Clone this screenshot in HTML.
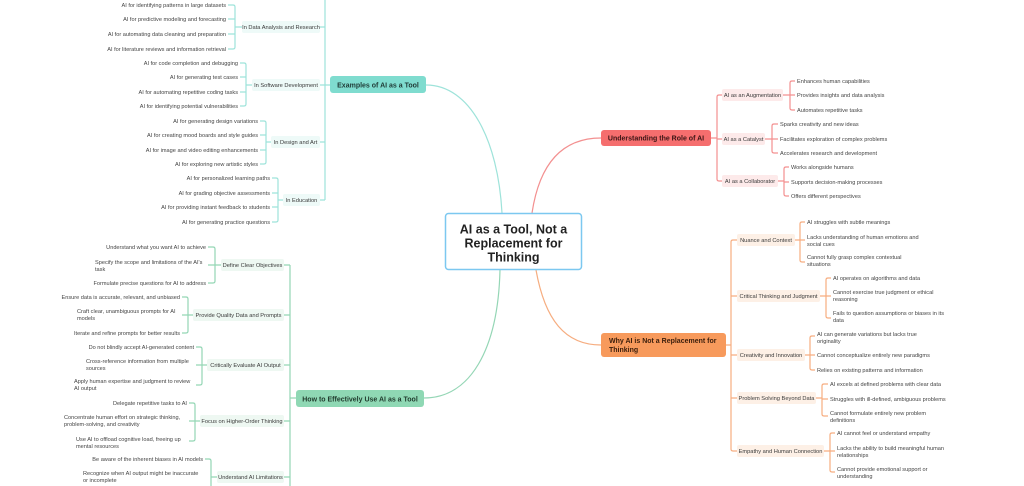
<!DOCTYPE html>
<html><head><meta charset="utf-8"><style>
html,body{margin:0;padding:0;background:#fff;}
svg{display:block;}
text{font-family:"Liberation Sans",sans-serif;}
.lf{font-size:5.6px;fill:#444;}
.sub{font-size:5.7px;fill:#3a3a3a;}
.lt{fill:none;stroke:#9ee3da;stroke-width:1.2;}
.lg{fill:none;stroke:#94d6b5;stroke-width:1.2;}
.lr{fill:none;stroke:#f39090;stroke-width:1.2;}
.lo{fill:none;stroke:#f6ad80;stroke-width:1.2;}
</style></head><body>
<svg width="1024" height="486" viewBox="0 0 1024 486" xmlns="http://www.w3.org/2000/svg">
<path class="lt" d="M502 213 C498 140 470 85 426 85"/>
<path class="lr" d="M532 213 C540 160 565 138 601 138"/>
<path class="lg" d="M500 270 C498 350 470 398 424 398"/>
<path class="lo" d="M536 270 C545 320 565 345 601 345"/>

<path class="lt" d="M330 85 H325 M325 0 V200"/>
<path class="lt" d="M325 27 H320 M325 85 H320 M325 142 H320 M325 200 H320"/>
<rect x="242" y="21" width="78" height="12" rx="2" fill="#eefaf8"/>
<text class="sub" x="281" y="29" text-anchor="middle">In Data Analysis and Research</text>
<rect x="252" y="79" width="68" height="12" rx="2" fill="#eefaf8"/>
<text class="sub" x="286" y="87" text-anchor="middle">In Software Development</text>
<rect x="271" y="136" width="49" height="12" rx="2" fill="#eefaf8"/>
<text class="sub" x="295.5" y="144" text-anchor="middle">In Design and Art</text>
<rect x="283" y="194" width="37" height="12" rx="2" fill="#eefaf8"/>
<text class="sub" x="301.5" y="202" text-anchor="middle">In Education</text>
<path class="lt" d="M242 27 H235 M228 5 H233 Q235 5 235 7 V47 Q235 49 233 49 H228 M228 19 H235 M228 34 H235"/>
<path class="lt" d="M252 85 H246 M240 63 H244 Q246 63 246 65 V104 Q246 106 244 106 H240 M240 77 H246 M240 92 H246"/>
<path class="lt" d="M271 142 H266 M260 121 H264 Q266 121 266 123 V162 Q266 164 264 164 H260 M260 135 H266 M260 150 H266"/>
<path class="lt" d="M283 200 H278 M272 178 H276 Q278 178 278 180 V220 Q278 222 276 222 H272 M272 193 H278 M272 207 H278"/>
<g class="lf" text-anchor="end">
<text x="226" y="7">AI for identifying patterns in large datasets</text>
<text x="226" y="21">AI for predictive modeling and forecasting</text>
<text x="226" y="36">AI for automating data cleaning and preparation</text>
<text x="226" y="51">AI for literature reviews and information retrieval</text>
<text x="238" y="65">AI for code completion and debugging</text>
<text x="238" y="79">AI for generating test cases</text>
<text x="238" y="94">AI for automating repetitive coding tasks</text>
<text x="238" y="108">AI for identifying potential vulnerabilities</text>
<text x="258" y="123">AI for generating design variations</text>
<text x="258" y="137">AI for creating mood boards and style guides</text>
<text x="258" y="152">AI for image and video editing enhancements</text>
<text x="258" y="166">AI for exploring new artistic styles</text>
<text x="270" y="180">AI for personalized learning paths</text>
<text x="270" y="195">AI for grading objective assessments</text>
<text x="270" y="209">AI for providing instant feedback to students</text>
<text x="270" y="224">AI for generating practice questions</text>
</g>
<rect x="330" y="76" width="96" height="17" rx="3" fill="#7fdccf"/>
<text x="378" y="87.5" text-anchor="middle" font-size="7" fill="#1f3a36" font-weight="bold">Examples of AI as a Tool</text>

<path class="lg" d="M296 398 H290 M290 265 V486"/>
<path class="lg" d="M290 265 H284 M290 315 H284 M290 365 H284 M290 421 H284 M290 477 H284"/>
<rect x="221" y="259" width="63" height="12" rx="2" fill="#eef8f2"/>
<text class="sub" x="252.5" y="267" text-anchor="middle">Define Clear Objectives</text>
<rect x="193" y="309" width="91" height="12" rx="2" fill="#eef8f2"/>
<text class="sub" x="238.5" y="317" text-anchor="middle">Provide Quality Data and Prompts</text>
<rect x="207" y="359" width="77" height="12" rx="2" fill="#eef8f2"/>
<text class="sub" x="245.5" y="367" text-anchor="middle">Critically Evaluate AI Output</text>
<rect x="200" y="415" width="84" height="12" rx="2" fill="#eef8f2"/>
<text class="sub" x="242" y="423" text-anchor="middle">Focus on Higher-Order Thinking</text>
<rect x="217" y="471" width="67" height="12" rx="2" fill="#eef8f2"/>
<text class="sub" x="250.5" y="479" text-anchor="middle">Understand AI Limitations</text>
<path class="lg" d="M221 265 H215 M208 247 H213 Q215 247 215 249 V281 Q215 283 213 283 H208 M208 265 H215"/>
<path class="lg" d="M193 315 H188 M182 297 H186 Q188 297 188 299 V331 Q188 333 186 333 H182 M182 315 H188"/>
<path class="lg" d="M207 365 H202 M196 347 H200 Q202 347 202 349 V383 Q202 385 200 385 H196 M196 365 H202"/>
<path class="lg" d="M200 421 H195 M189 403 H193 Q195 403 195 405 V439 Q195 441 193 441 H189 M189 421 H195"/>
<path class="lg" d="M217 477 H211 M205 459 H209 Q211 459 211 461 V486"/>
<g class="lf">
<text x="206" y="249" text-anchor="end">Understand what you want AI to achieve</text>
<text x="95" y="264">Specify the scope and limitations of the AI's</text>
<text x="95" y="271">task</text>
<text x="206" y="285" text-anchor="end">Formulate precise questions for AI to address</text>
<text x="180" y="299" text-anchor="end">Ensure data is accurate, relevant, and unbiased</text>
<text x="77" y="313">Craft clear, unambiguous prompts for AI</text>
<text x="77" y="320">models</text>
<text x="180" y="335" text-anchor="end">Iterate and refine prompts for better results</text>
<text x="194" y="349" text-anchor="end">Do not blindly accept AI-generated content</text>
<text x="86" y="363">Cross-reference information from multiple</text>
<text x="86" y="370">sources</text>
<text x="74" y="383">Apply human expertise and judgment to review</text>
<text x="74" y="390">AI output</text>
<text x="187" y="405" text-anchor="end">Delegate repetitive tasks to AI</text>
<text x="64" y="419">Concentrate human effort on strategic thinking,</text>
<text x="64" y="426">problem-solving, and creativity</text>
<text x="76" y="441">Use AI to offload cognitive load, freeing up</text>
<text x="76" y="448">mental resources</text>
<text x="203" y="461" text-anchor="end">Be aware of the inherent biases in AI models</text>
<text x="83" y="475">Recognize when AI output might be inaccurate</text>
<text x="83" y="482">or incomplete</text>
</g>
<rect x="296" y="390" width="128" height="17" rx="3" fill="#8fd8b4"/>
<text x="360" y="401.5" text-anchor="middle" font-size="7" fill="#1f3a2c" font-weight="bold">How to Effectively Use AI as a Tool</text>

<path class="lr" d="M711 138 H717 M722 95 H719 Q717 95 717 97 V179 Q717 181 719 181 H722 M717 139 H722"/>
<rect x="722" y="89" width="61" height="12" rx="2" fill="#fdeaea"/>
<text class="sub" x="752.5" y="97" text-anchor="middle">AI as an Augmentation</text>
<rect x="722" y="133" width="43" height="12" rx="2" fill="#fdeaea"/>
<text class="sub" x="743.5" y="141" text-anchor="middle">AI as a Catalyst</text>
<rect x="722" y="175" width="56" height="12" rx="2" fill="#fdeaea"/>
<text class="sub" x="750" y="183" text-anchor="middle">AI as a Collaborator</text>
<path class="lr" d="M783 95 H790 M795 81 H792 Q790 81 790 83 V108 Q790 110 792 110 H795 M790 95 H795"/>
<path class="lr" d="M765 139 H772 M778 124 H774 Q772 124 772 126 V151 Q772 153 774 153 H778 M772 139 H778"/>
<path class="lr" d="M778 181 H784 M789 167 H786 Q784 167 784 169 V194 Q784 196 786 196 H789 M784 182 H789"/>
<g class="lf">
<text x="797" y="83">Enhances human capabilities</text>
<text x="797" y="97">Provides insights and data analysis</text>
<text x="797" y="112">Automates repetitive tasks</text>
<text x="780" y="126">Sparks creativity and new ideas</text>
<text x="780" y="141">Facilitates exploration of complex problems</text>
<text x="780" y="155">Accelerates research and development</text>
<text x="791" y="169">Works alongside humans</text>
<text x="791" y="184">Supports decision-making processes</text>
<text x="791" y="198">Offers different perspectives</text>
</g>
<rect x="601" y="130" width="110" height="16" rx="3" fill="#f56e6e"/>
<text x="656" y="140.5" text-anchor="middle" font-size="7" fill="#3a1414" font-weight="bold">Understanding the Role of AI</text>

<path class="lo" d="M726 345 H731 M737 240 H733 Q731 240 731 242 V449 Q731 451 733 451 H737 M731 296 H737 M731 355 H737 M731 398 H737"/>
<rect x="737" y="234" width="58" height="12" rx="2" fill="#fdf0e6"/>
<text class="sub" x="766" y="242" text-anchor="middle">Nuance and Context</text>
<rect x="737" y="290" width="83" height="12" rx="2" fill="#fdf0e6"/>
<text class="sub" x="778.5" y="298" text-anchor="middle">Critical Thinking and Judgment</text>
<rect x="737" y="349" width="68" height="12" rx="2" fill="#fdf0e6"/>
<text class="sub" x="771" y="357" text-anchor="middle">Creativity and Innovation</text>
<rect x="737" y="392" width="79" height="12" rx="2" fill="#fdf0e6"/>
<text class="sub" x="776.5" y="400" text-anchor="middle">Problem Solving Beyond Data</text>
<rect x="737" y="445" width="87" height="12" rx="2" fill="#fdf0e6"/>
<text class="sub" x="780.5" y="453" text-anchor="middle">Empathy and Human Connection</text>
<path class="lo" d="M795 240 H800 M805 222 H802 Q800 222 800 224 V260 Q800 262 802 262 H805 M800 240 H805"/>
<path class="lo" d="M820 296 H826 M831 278 H828 Q826 278 826 280 V316 Q826 318 828 318 H831 M826 296 H831"/>
<path class="lo" d="M805 355 H810 M815 336 H812 Q810 336 810 338 V368 Q810 370 812 370 H815 M810 355 H815"/>
<path class="lo" d="M816 398 H822 M828 384 H824 Q822 384 822 386 V414 Q822 416 824 416 H828 M822 399 H828"/>
<path class="lo" d="M824 451 H830 M835 433 H832 Q830 433 830 435 V470 Q830 472 832 472 H835 M830 451 H835"/>
<g class="lf">
<text x="807" y="224">AI struggles with subtle meanings</text>
<text x="807" y="239">Lacks understanding of human emotions and</text>
<text x="807" y="246">social cues</text>
<text x="807" y="259">Cannot fully grasp complex contextual</text>
<text x="807" y="266">situations</text>
<text x="833" y="280">AI operates on algorithms and data</text>
<text x="833" y="294">Cannot exercise true judgment or ethical</text>
<text x="833" y="301">reasoning</text>
<text x="833" y="315">Fails to question assumptions or biases in its</text>
<text x="833" y="322">data</text>
<text x="817" y="336">AI can generate variations but lacks true</text>
<text x="817" y="343">originality</text>
<text x="817" y="357">Cannot conceptualize entirely new paradigms</text>
<text x="817" y="372">Relies on existing patterns and information</text>
<text x="830" y="386">AI excels at defined problems with clear data</text>
<text x="830" y="401">Struggles with ill-defined, ambiguous problems</text>
<text x="830" y="415">Cannot formulate entirely new problem</text>
<text x="830" y="422">definitions</text>
<text x="837" y="435">AI cannot feel or understand empathy</text>
<text x="837" y="450">Lacks the ability to build meaningful human</text>
<text x="837" y="457">relationships</text>
<text x="837" y="471">Cannot provide emotional support or</text>
<text x="837" y="478">understanding</text>
</g>
<rect x="601" y="333" width="125" height="24" rx="3" fill="#f79a5c"/>
<text x="609" y="343" font-size="7" fill="#3a1e0c" font-weight="bold">Why AI is Not a Replacement for</text>
<text x="609" y="352" font-size="7" fill="#3a1e0c" font-weight="bold">Thinking</text>

<rect x="445.5" y="213.5" width="136" height="56" rx="3" fill="#fff" stroke="#7cc8f0" stroke-width="1.5"/>
<g font-size="12.5" font-weight="bold" fill="#222" text-anchor="middle">
<text x="513.5" y="233.5">AI as a Tool, Not a</text>
<text x="513.5" y="247.5">Replacement for</text>
<text x="513.5" y="261.5">Thinking</text>
</g>
</svg>
</body></html>
